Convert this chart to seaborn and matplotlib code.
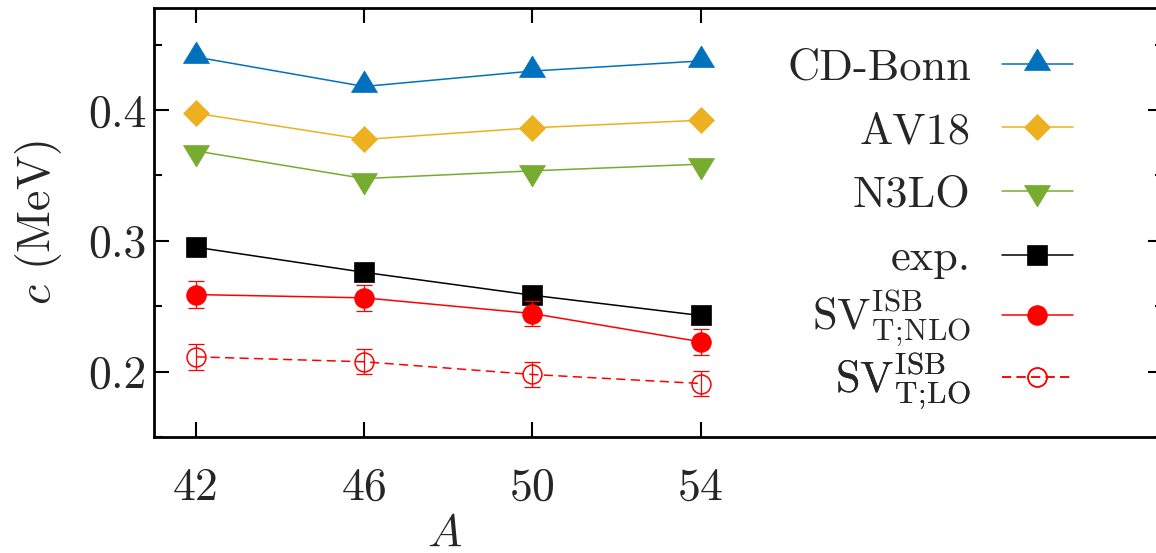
import matplotlib
matplotlib.use("Agg")
import matplotlib.pyplot as plt
import seaborn as sns
from matplotlib.ticker import MultipleLocator

# ---------------- data ----------------
A = [42, 46, 50, 54]
cd_bonn = [0.4405, 0.4180, 0.4298, 0.4375]
av18 = [0.3975, 0.3775, 0.3864, 0.3922]
n3lo = [0.3687, 0.3476, 0.3535, 0.3586]
exp_vals = [0.2951, 0.2759, 0.2584, 0.2429]
sv_nlo = [0.2589, 0.2564, 0.2444, 0.2228]
sv_nlo_err = [0.0100, 0.0097, 0.0097, 0.0100]
sv_lo = [0.2113, 0.2075, 0.1978, 0.1909]
sv_lo_err = [0.0097, 0.0097, 0.0097, 0.0097]

labels = ["CD-Bonn", "AV18", "N3LO", "exp.",
          r"$\mathrm{SV}^{\mathrm{ISB}}_{\mathrm{T;\!NLO}}$",
          r"$\mathrm{SV}^{\mathrm{ISB}}_{\mathrm{T;\!LO}}$"]
xticks = [42, 46, 50, 54]
xtick_labels = ["42", "46", "50", "54"]
yticks = [0.2, 0.3, 0.4]
ytick_labels = ["0.2", "0.3", "0.4"]

# ---------------- style ----------------
sns.set_theme(style="ticks")
plt.rcParams["font.family"] = ["cmr10", "DejaVu Serif"]
plt.rcParams["mathtext.fontset"] = "cm"
plt.rcParams["axes.formatter.use_mathtext"] = True
plt.rcParams["axes.unicode_minus"] = False

W, H = 1156, 553
fig = plt.figure(figsize=(W / 100, H / 100), dpi=100)
fig.patch.set_facecolor("white")
ax = fig.add_axes([154 / W, 116 / H, 1009 / W, 429 / H])
ax.set_facecolor("white")

tri_up = [(0, 15.5), (-13, -6), (13, -6), (0, 15.5)]
tri_dn = [(0, -15.5), (-13, 6), (13, 6), (0, -15.5)]

blue, orange, green, red = "#0072BD", "#EDB120", "#77AC30", "#FF0000"

handles = []

def add_line(vals, color, marker, ms, ls="-", mfc=None, mew=0.5):
    sns.lineplot(x=A, y=vals, ax=ax, color=color, marker=marker,
                 markersize=ms, markeredgecolor=color,
                 markerfacecolor=color if mfc is None else mfc,
                 markeredgewidth=mew, linewidth=1.1, linestyle=ls,
                 legend=False, sort=False)
    handles.append(ax.lines[-1])

add_line(cd_bonn, blue, tri_up, 22.3)
add_line(av18, orange, "D", 13.6)
add_line(n3lo, green, tri_dn, 22.3)
add_line(exp_vals, "black", "s", 14)

ax.errorbar(A, sv_nlo, yerr=sv_nlo_err, fmt="none", ecolor=red,
            elinewidth=0.9, capsize=6, capthick=0.9)
add_line(sv_nlo, red, "o", 14.2)

ax.errorbar(A, sv_lo, yerr=sv_lo_err, fmt="none", ecolor=red,
            elinewidth=0.9, capsize=6, capthick=0.9)
add_line(sv_lo, red, "o", 13.6, ls=(0, (6, 3.5)), mfc="none", mew=1.1)

# ---------------- axes ----------------
ax.set_xlim(41, 65)
ax.set_ylim(0.15, 0.478)
ax.set_xticks(xticks)
ax.set_xticklabels(xtick_labels)
ax.set_yticks(yticks)
ax.set_yticklabels(ytick_labels)
ax.yaxis.set_minor_locator(MultipleLocator(0.05))
ax.tick_params(which="both", direction="in", top=True, right=True,
               width=1.5, color="black")
ax.tick_params(which="major", length=10.8)
ax.tick_params(which="minor", length=5.5)
ax.tick_params(axis="x", which="major", labelsize=33, pad=22)
ax.tick_params(axis="y", which="major", labelsize=33, pad=5.5)
for sp in ax.spines.values():
    sp.set_linewidth(2)
    sp.set_color("black")
ax.grid(False)

ax.set_ylabel(r"$c$ (MeV)", fontsize=33)
ax.set_xlabel(r"$A$", fontsize=33)
ax.yaxis.set_label_coords(-0.089, 0.5)
ax.xaxis.set_label_coords(0.288, -0.178)

# ---------------- legend (one row per entry) ----------------
row_y = [64.3, 127.7, 191.0, 255.0, 317.7, 380.3]
row_off = [4.3, 4.3, 4.3, 4.3, 1.0, 1.0]
for h, lab, y, off in zip(handles, labels, row_y, row_off):
    leg = ax.legend(handles=[h], labels=[lab], loc="center right",
                    bbox_to_anchor=(1073 / W, 1 - (y + off) / H),
                    bbox_transform=fig.transFigure, frameon=False,
                    borderpad=0, borderaxespad=0, handlelength=1.6,
                    handletextpad=0.7, markerfirst=False, fontsize=32,
                    numpoints=1)
    ax.add_artist(leg)

fig.savefig("out.png", dpi=100, facecolor="white")
